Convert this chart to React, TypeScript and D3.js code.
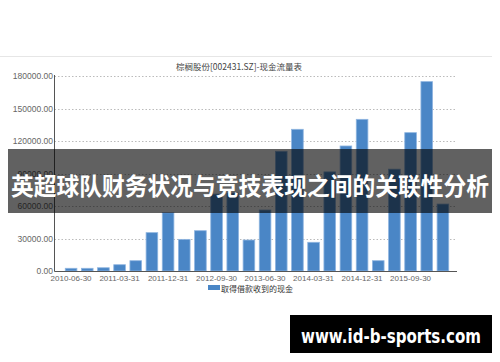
import React from "react";
import * as d3 from "d3";

const categories = [
  "2010-06-30", "2010-09-30", "2010-12-31", "2011-03-31", "2011-06-30", "2011-09-30",
  "2011-12-31", "2012-03-31", "2012-06-30", "2012-09-30", "2012-12-31", "2013-03-31",
  "2013-06-30", "2013-09-30", "2013-12-31", "2014-03-31", "2014-06-30", "2014-09-30",
  "2014-12-31", "2015-03-31", "2015-06-30", "2015-09-30", "2015-12-31", "2016-03-31",
];
const values = [
  2500, 2500, 3000, 5800, 9500, 35400,
  53800, 29200, 37200, 71000, 72000, 28600,
  56300, 110500, 130800, 26500, 91500, 115400,
  140000, 9500, 94000, 127700, 174800, 61800,
];
const yTicks = [0, 30000, 60000, 90000, 120000, 150000, 180000];
const xTickLabels = [
  "2010-06-30", "2011-03-31", "2011-12-31", "2012-09-30",
  "2013-06-30", "2014-03-31", "2014-12-31", "2015-09-30",
];
const chartTitle = "棕榈股份[002431.SZ]-现金流量表";
const seriesName = "取得借款收到的现金";
const bannerText = "英超球队财务状况与竞技表现之间的关联性分析";
const siteText = "www.id-b-sports.com";

const W = 500;
const H = 362;
const axisX = 54.5;
const plotRight = 457;

export default function App() {
  const x = d3.scaleBand<string>().domain(categories).range([63, 451]).paddingInner(0.28).paddingOuter(0.14);
  const y = d3.scaleLinear().domain([0, 180000]).range([271, 76]);
  const fmt = d3.format(".2f");
  const font = "'Liberation Sans', 'Noto Sans CJK SC', sans-serif";
  const cjk = "'Noto Sans CJK SC', sans-serif";
  const barFill = "#4a86c6";
  return (
    <svg width={W} height={H} style={{ position: "absolute", left: 0, top: 0, background: "#fff" }}>
      <line x1={0} x2={492} y1={56.5} y2={56.5} stroke="#e6e6e6" strokeWidth={1} />
      <text x={239} y={66} fontSize={8.5} fill="#444" textAnchor="middle" dominantBaseline="central" fontFamily={cjk}>
        {chartTitle}
      </text>
      {yTicks.map((t) => (
        <g key={t}>
          {t > 0 && (
            <line x1={axisX} x2={plotRight} y1={Math.round(y(t)) + 0.5} y2={Math.round(y(t)) + 0.5}
              stroke="#bbb" strokeDasharray="1.5,2" strokeWidth={1} />
          )}
          <text x={53} y={y(t)} fontSize={8.5} fill="#666" textAnchor="end" dominantBaseline="central" fontFamily={font}>
            {fmt(t)}
          </text>
        </g>
      ))}
      {categories.map((c, i) => (
        <rect key={c} x={x(c)!} y={y(values[i])} width={x.bandwidth()} height={y(0) - y(values[i])}
          fill={barFill} stroke="#8fb5e0" strokeWidth={0.8} />
      ))}
      <line x1={axisX} x2={axisX} y1={75} y2={271.5} stroke="#555" strokeWidth={1} />
      <line x1={axisX} x2={plotRight} y1={271.5} y2={271.5} stroke="#555" strokeWidth={1} />
      {xTickLabels.map((c) => (
        <text key={c} x={x(c)! + x.bandwidth() / 2} y={278.5} fontSize={8} fill="#666" textAnchor="middle"
          dominantBaseline="central" fontFamily={font}>
          {c}
        </text>
      ))}
      <rect x={208} y={285} width={12} height={5} fill={barFill} />
      <text x={221} y={288} fontSize={8} fill="#333" dominantBaseline="central" fontFamily={cjk}>
        {seriesName}
      </text>
      <rect x={8} y={149} width={484} height={64} fill="rgba(0,0,0,0.62)" />
      <text x={250} y={184} fontSize={24} fontWeight="bold" fill="#fff" textAnchor="middle" dominantBaseline="central"
        fontFamily={cjk} textLength={478} lengthAdjust="spacingAndGlyphs">
        {bannerText}
      </text>
      <rect x={290} y={315} width={202} height={38} fill="#000" />
      <text x={391} y={343} fontSize={19} fontWeight="bold" fill="#fff" textAnchor="middle"
        fontFamily="'DejaVu Sans', sans-serif" textLength={180} lengthAdjust="spacingAndGlyphs">
        {siteText}
      </text>
    </svg>
  );
}
